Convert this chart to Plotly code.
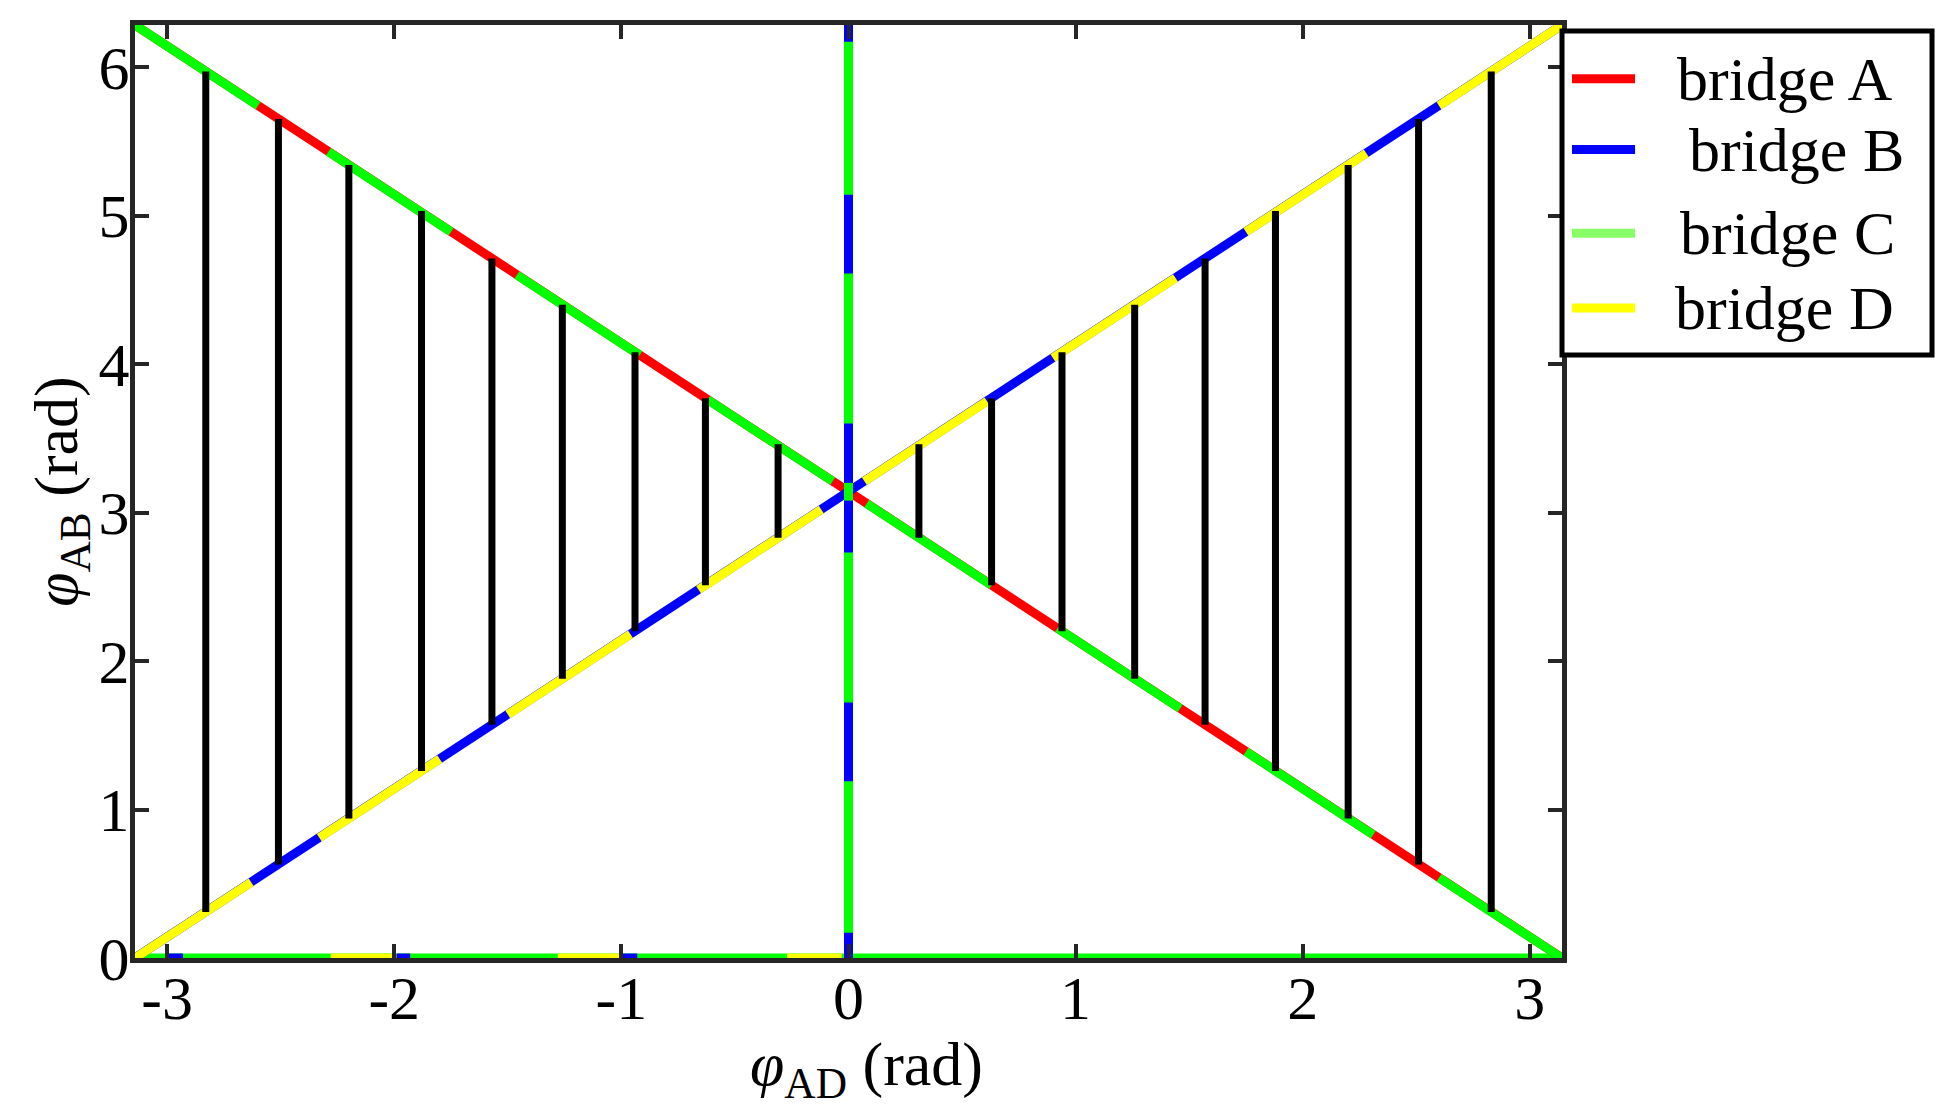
import plotly.graph_objects as go

# phase values (rad)
PI = 3.1416
TWO_PI = 6.2832

# descending line phi_AB = pi - phi_AD : bridge A underneath, bridge C pieces on top
desc_a_x = [-PI, PI]
desc_a_y = [TWO_PI, 0.0]
desc_c_x = [-PI, -2.60, None, -2.29, -1.75, None, -1.46, -0.92, None, -0.62, -0.07, None,
            0.08, 0.63, None, 0.92, 1.46, None, 1.75, 2.31, None, 2.60, PI]
desc_c_y = [TWO_PI, 5.74, None, 5.43, 4.89, None, 4.60, 4.06, None, 3.76, 3.21, None,
            3.06, 2.51, None, 2.22, 1.68, None, 1.39, 0.83, None, 0.54, 0.0]

# ascending line phi_AB = pi + phi_AD : bridge B underneath, bridge D pieces on top
asc_b_x = [-PI, PI]
asc_b_y = [0.0, TWO_PI]
asc_d_x = [-PI, -2.63, None, -2.33, -1.80, None, -1.50, -0.96, None, -0.66, -0.12, None,
           0.07, 0.61, None, 0.90, 1.44, None, 1.75, 2.28, None, 2.60, PI]
asc_d_y = [0.0, 0.51, None, 0.81, 1.34, None, 1.64, 2.18, None, 2.48, 3.02, None,
           3.21, 3.75, None, 4.04, 4.58, None, 4.89, 5.42, None, 5.74, TWO_PI]

# vertical line phi_AD = 0 : bridge B underneath, bridge C pieces on top
vert_b_x = [0.0, 0.0]
vert_b_y = [0.0, 6.30]
vert_c_x = [0.0, 0.0, None, 0.0, 0.0, None, 0.0, 0.0, None, 0.0, 0.0, None, 0.0, 0.0]
vert_c_y = [0.17, 1.19, None, 1.72, 2.73, None, 3.08, 3.20, None, 3.60, 4.61, None, 5.14, 6.17]

# horizontal line phi_AB = 0 : bridge C underneath, B and D pieces on the left half
horiz_c_x = [-PI, PI]
horiz_c_y = [0.0, 0.0]
horiz_d_x = [-2.28, -1.99, None, -1.28, -1.00, None, -0.27, -0.03]
horiz_d_y = [0.0, 0.0, None, 0.0, 0.0, None, 0.0, 0.0]
horiz_b_x = [-3.00, -2.93, None, -1.99, -1.93, None, -1.00, -0.93]
horiz_b_y = [0.0, 0.0, None, 0.0, 0.0, None, 0.0, 0.0]

# black vertical bars between the two diagonals
rung_x = [-2.83, -2.51, -2.20, -1.88, -1.57, -1.26, -0.94, -0.63, -0.31,
          0.31, 0.63, 0.94, 1.26, 1.57, 1.88, 2.20, 2.51, 2.83]
rung_lo = [0.31, 0.63, 0.94, 1.26, 1.57, 1.88, 2.20, 2.51, 2.83,
           2.83, 2.51, 2.20, 1.88, 1.57, 1.26, 0.94, 0.63, 0.31]
rung_hi = [5.97, 5.65, 5.34, 5.03, 4.71, 4.40, 4.08, 3.77, 3.46,
           3.46, 3.77, 4.08, 4.40, 4.71, 5.03, 5.34, 5.65, 5.97]

bridge_names = ["bridge A", "bridge B", "bridge C", "bridge D"]
bridge_legend_colors = ["#ff0000", "#0000ff", "#88ff66", "#ffff00"]

RED, BLUE, GREEN, YELLOW = "#ff0000", "#0000ff", "#00ff00", "#ffff00"
LW = 9

fig = go.Figure()


def seg(x, y, color, width=LW):
    fig.add_trace(go.Scatter(x=x, y=y, mode="lines", showlegend=False, hoverinfo="skip",
                             line=dict(color=color, width=width)))


seg(horiz_c_x, horiz_c_y, GREEN)
seg(horiz_d_x, horiz_d_y, YELLOW)
seg(horiz_b_x, horiz_b_y, BLUE)
seg(desc_a_x, desc_a_y, RED)
seg(desc_c_x, desc_c_y, GREEN)
seg(asc_b_x, asc_b_y, BLUE)
seg(asc_d_x, asc_d_y, YELLOW)
seg(vert_b_x, vert_b_y, BLUE)
seg(vert_c_x, vert_c_y, GREEN)

rx, ry = [], []
for x, lo, hi in zip(rung_x, rung_lo, rung_hi):
    rx += [x, x, None]
    ry += [lo, hi, None]
seg(rx, ry, "black", 7)

font = dict(family="Liberation Serif", size=62, color="black")
axis = dict(showline=True, linewidth=5, linecolor="#262626", mirror="ticks",
            ticks="inside", ticklen=14, tickwidth=4, tickcolor="#262626",
            showgrid=False, zeroline=False, tickfont=font)

fig.update_xaxes(range=[-PI, PI], tickvals=[-3, -2, -1, 0, 1, 2, 3],
                 ticktext=["-3", "-2", "-1", "0", "1", "2", "3"], ticklabelstandoff=-18, **axis)
fig.update_yaxes(range=[0, TWO_PI], tickvals=[0, 1, 2, 3, 4, 5, 6], ticklabelstandoff=-12,
                 title=dict(text="<i>φ</i><sub>AB</sub> (rad)", font=font, standoff=0), **axis)

# legend drawn by hand so its size and row spacing follow the reference
shapes = [dict(type="rect", xref="paper", yref="paper", x0=1.0, x1=1.2593, y0=0.6464, y1=0.9936,
               line=dict(color="black", width=5), fillcolor="white", layer="above")]
annotations = [dict(text="<i>φ</i><sub>AD</sub> (rad)", xref="paper", yref="paper",
                    x=0.5123, y=-0.118, xanchor="center", yanchor="middle",
                    showarrow=False, font=font)]
row_y = [0.9423, 0.8665, 0.7767, 0.6966]
text_x = [1.0792, 1.0876, 1.0813, 1.0778]
for name, color, ry_, tx in zip(bridge_names, bridge_legend_colors, row_y, text_x):
    shapes.append(dict(type="line", xref="paper", yref="paper", x0=1.0070, x1=1.0512,
                       y0=ry_, y1=ry_, line=dict(color=color, width=9), layer="above"))
    annotations.append(dict(text=name, xref="paper", yref="paper", x=tx, y=ry_,
                            xanchor="left", yanchor="middle", showarrow=False, font=font))

fig.update_layout(
    width=1955, height=1113,
    margin=dict(l=127, r=401, t=14, b=163),
    plot_bgcolor="white", paper_bgcolor="white",
    font=font, showlegend=False,
    shapes=shapes, annotations=annotations,
)

fig.write_html("out.html")
